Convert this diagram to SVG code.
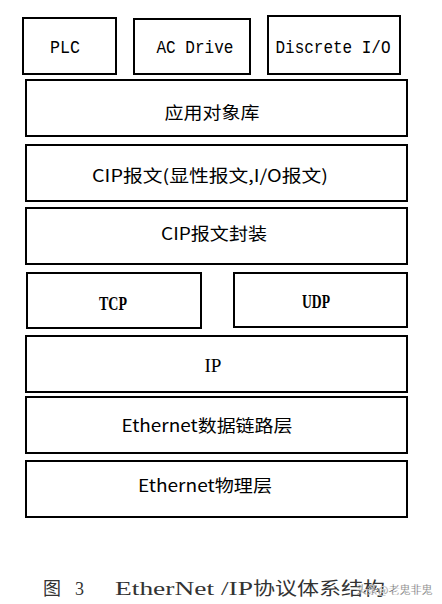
<svg xmlns="http://www.w3.org/2000/svg" width="442" height="604" viewBox="0 0 442 604">
<style>
.box{fill:#fff;stroke:#000;stroke-width:2}
.m{font-family:"Liberation Mono","Noto Sans CJK SC",monospace;font-size:19px;fill:#000}
.c{font-family:"Noto Sans CJK SC","Liberation Serif",serif;font-size:17px;fill:#000}
.s{font-family:"Liberation Serif","Noto Sans CJK SC",serif;font-size:19px;fill:#000;font-weight:bold}
.ip{font-family:"Liberation Serif","Noto Sans CJK SC",serif;font-size:19px;fill:#000;font-weight:normal}
.cap{font-family:"Liberation Serif","Noto Sans CJK SC",serif;font-size:18px;fill:#333;font-weight:normal}
</style>
<rect width="442" height="604" fill="#fff"/>
<g id="plc"><rect class="box" x="23" y="18" width="93" height="56"/><text class="m" x="65" y="53" text-anchor="middle" textLength="30" lengthAdjust="spacingAndGlyphs">PLC</text></g>
<g id="acdrive"><rect class="box" x="134" y="19" width="116" height="55"/><text class="m" x="195" y="53" text-anchor="middle" textLength="77" lengthAdjust="spacingAndGlyphs">AC Drive</text></g>
<g id="discrete"><rect class="box" x="268" y="16" width="132" height="58"/><text class="m" x="333" y="53" text-anchor="middle" textLength="115" lengthAdjust="spacingAndGlyphs">Discrete I/O</text></g>
<g id="app"><rect class="box" x="26" y="80" width="381" height="56"/><text class="c" x="212" y="119" text-anchor="middle" textLength="95" lengthAdjust="spacingAndGlyphs">应用对象库</text></g>
<g id="cipmsg"><rect class="box" x="26" y="145" width="381" height="56"/><text class="c" x="210" y="182" text-anchor="middle" textLength="236" lengthAdjust="spacingAndGlyphs">CIP报文(显性报文,I/O报文)</text></g>
<g id="cipenc"><rect class="box" x="26" y="208" width="381" height="56"/><text class="c" x="214" y="240" text-anchor="middle" textLength="106" lengthAdjust="spacingAndGlyphs">CIP报文封装</text></g>
<g id="tcp"><rect class="box" x="27" y="273" width="174" height="55"/><text class="s" x="113" y="310" text-anchor="middle" textLength="28" lengthAdjust="spacingAndGlyphs">TCP</text></g>
<g id="udp"><rect class="box" x="234" y="273" width="173" height="54"/><text class="s" x="316" y="308" text-anchor="middle" textLength="28" lengthAdjust="spacingAndGlyphs">UDP</text></g>
<g id="ip"><rect class="box" x="26" y="336" width="381" height="56"/><text class="ip" x="213" y="372" text-anchor="middle" textLength="17" lengthAdjust="spacingAndGlyphs">IP</text></g>
<g id="datalink"><rect class="box" x="26" y="397" width="381" height="56"/><text class="c" x="207" y="432" text-anchor="middle" textLength="171" lengthAdjust="spacingAndGlyphs">Ethernet数据链路层</text></g>
<g id="phy"><rect class="box" x="26" y="461" width="381" height="56"/><text class="c" x="205" y="492" text-anchor="middle" textLength="134" lengthAdjust="spacingAndGlyphs">Ethernet物理层</text></g>
<g id="caption">
<text class="cap" x="43" y="595">图</text>
<text class="cap" x="75" y="595">3</text>
<text class="cap" x="115" y="595" textLength="138" lengthAdjust="spacingAndGlyphs">EtherNet /IP</text>
<text class="cap" x="253" y="595" textLength="132" lengthAdjust="spacingAndGlyphs">协议体系结构</text>
<text x="356" y="594" font-family="Noto Sans CJK SC,sans-serif" font-size="11" fill="#444" stroke="#fff" stroke-width="0.3">头条@老鬼非鬼</text>
</g>
</svg>
